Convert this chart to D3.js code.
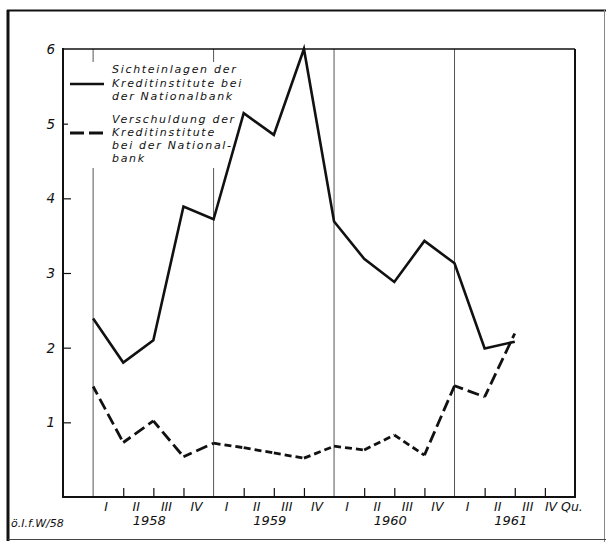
<!DOCTYPE html>
<html><head><meta charset="utf-8">
<script src="https://cdn.jsdelivr.net/npm/d3@7"></script>
<style>
html,body{margin:0;padding:0;background:#fff;}
svg text{font-family:"DejaVu Sans","Liberation Sans",sans-serif;font-style:italic;fill:#111;}
</style></head>
<body>
<script>
// ---- data ----
const years = ["1958", "1959", "1960", "1961"];
const quarters = ["I", "II", "III", "IV"];
const yTicks = [1, 2, 3, 4, 5, 6];
// quarter-boundary positions 0..14 (start: 1958 I)
const sichteinlagen = [2.39, 1.80, 2.10, 3.89, 3.72, 5.14, 4.85, 6.00, 3.69, 3.19, 2.88, 3.43, 3.13, 1.99, 2.08];
const verschuldung  = [1.48, 0.73, 1.02, 0.54, 0.72, 0.66, 0.59, 0.52, 0.68, 0.63, 0.83, 0.56, 1.49, 1.34, 2.19];
const legend1 = ["Sichteinlagen der", "Kreditinstitute bei", "der Nationalbank"];
const legend2 = ["Verschuldung der", "Kreditinstitute", "bei der National-", "bank"];
const source = "ö.I.f.W/58";

const W = 606, H = 542;
const svg = d3.select("body").append("svg").attr("width", W).attr("height", H);
svg.append("rect").attr("width", W).attr("height", H).attr("fill", "#fff");

const x = d3.scaleLinear().domain([-1, 16]).range([63, 575]);
const y = d3.scaleLinear().domain([0, 6]).range([497, 49]);

// outer border
svg.append("line").attr("x1", 8).attr("x2", 8).attr("y1", 10).attr("y2", 541).attr("stroke", "#111").attr("stroke-width", 3);
svg.append("line").attr("x1", 7).attr("x2", 606).attr("y1", 10.5).attr("y2", 10.5).attr("stroke", "#111").attr("stroke-width", 2);
svg.append("line").attr("x1", 604.5).attr("x2", 604.5).attr("y1", 10).attr("y2", 542).attr("stroke", "#888").attr("stroke-width", 1);
svg.append("line").attr("x1", 8).attr("x2", 606).attr("y1", 539.5).attr("y2", 539.5).attr("stroke", "#444").attr("stroke-width", 1);

// year separators
const seps = [0, 4, 8, 12];
svg.selectAll("line.sep").data(seps).enter().append("line")
  .attr("x1", d => x(d)).attr("x2", d => x(d))
  .attr("y1", y(6)).attr("y2", y(0))
  .attr("stroke", "#555").attr("stroke-width", 1);

// frame
svg.append("line").attr("x1", x(-1)).attr("x2", x(16)).attr("y1", y(6)).attr("y2", y(6)).attr("stroke", "#111").attr("stroke-width", 1.5);
svg.append("line").attr("x1", x(16)).attr("x2", x(16)).attr("y1", y(6)).attr("y2", y(0)).attr("stroke", "#111").attr("stroke-width", 2);

// y axis
const yAxis = d3.axisRight(y).tickValues(yTicks.filter(v => v < 6)).tickSize(8).tickFormat("");
const ga = svg.append("g").attr("transform", `translate(${x(-1)},0)`).call(yAxis);
ga.select(".domain").remove();
ga.selectAll("line").attr("stroke", "#111").attr("stroke-width", 1.2);
svg.append("line").attr("x1", x(-1)).attr("x2", x(-1)).attr("y1", y(6) - 1).attr("y2", y(0) + 1).attr("stroke", "#111").attr("stroke-width", 2);
svg.selectAll("text.yl").data(yTicks).enter().append("text")
  .attr("x", 55).attr("y", d => y(d) + 5).attr("text-anchor", "end")
  .attr("font-size", 13.5).text(d => d);

// x axis
const qIdx = d3.range(0, 17);
const xAxis = d3.axisTop(x).tickValues(qIdx.filter(d => d % 4 !== 0)).tickSize(9).tickFormat("");
const gx = svg.append("g").attr("transform", `translate(0,${y(0)})`).call(xAxis);
gx.select(".domain").remove();
gx.selectAll("line").attr("stroke", "#111").attr("stroke-width", 1.2);
svg.append("line").attr("x1", x(-1) - 1).attr("x2", x(16) + 1).attr("y1", y(0)).attr("y2", y(0)).attr("stroke", "#111").attr("stroke-width", 2);

const qLabels = [];
years.forEach((yr, yi) => quarters.forEach((q, qi) => qLabels.push({i: yi * 4 + qi, q, last: yi === years.length - 1 && qi === 3})));
svg.selectAll("text.q").data(qLabels).enter().append("text")
  .attr("x", d => d.last ? x(d.i) + 0 : x(d.i + 0.5) - 2)
  .attr("y", 511).attr("text-anchor", d => d.last ? "start" : "middle")
  .attr("font-size", 12.5).text(d => d.last ? d.q + " Qu." : d.q);
svg.selectAll("text.yr").data(years).enter().append("text")
  .attr("x", (d, i) => x(i * 4 + 2) - 4).attr("y", 525).attr("text-anchor", "middle")
  .attr("font-size", 13).text(d => d);
svg.append("text").attr("x", 11).attr("y", 527).attr("font-size", 11).text(source);

// legend background
svg.append("rect").attr("x", 68).attr("y", 62).attr("width", 154).attr("height", 106).attr("fill", "#fff");

// lines
const line = d3.line().x((d, i) => x(i)).y(d => y(d));
svg.append("path").datum(sichteinlagen).attr("d", line)
  .attr("fill", "none").attr("stroke", "#111").attr("stroke-width", 2.6).attr("stroke-linejoin", "miter");
const segs = d3.range(verschuldung.length - 1).map(i => ({i, a: verschuldung[i], b: verschuldung[i + 1]}));
svg.selectAll("line.seg").data(segs).enter().append("line")
  .attr("x1", d => x(d.i)).attr("y1", d => y(d.a))
  .attr("x2", d => x(d.i + 1)).attr("y2", d => y(d.b))
  .attr("stroke", "#111").attr("stroke-width", 2.8)
  .attr("stroke-dasharray", d => (d.i >= 4 && d.i < 11) ? "7,4" : "12,5")
  .attr("stroke-dashoffset", d => (d.i >= 4 && d.i < 11) ? 0 : 3);

// legend
svg.append("line").attr("x1", 70).attr("x2", 104).attr("y1", 84).attr("y2", 84).attr("stroke", "#111").attr("stroke-width", 2.6);
svg.append("line").attr("x1", 70).attr("x2", 104).attr("y1", 133).attr("y2", 133).attr("stroke", "#111").attr("stroke-width", 2.8).attr("stroke-dasharray", "14,5");
const lgStyle = sel => sel.attr("font-size", 11).attr("letter-spacing", "1.7px");
svg.selectAll("text.l1").data(legend1).enter().append("text")
  .attr("x", 112).attr("y", (d, i) => 73 + i * 13.5).call(lgStyle).text(d => d);
svg.selectAll("text.l2").data(legend2).enter().append("text")
  .attr("x", 112).attr("y", (d, i) => 123 + i * 13).call(lgStyle).text(d => d);
</script>
</body></html>
